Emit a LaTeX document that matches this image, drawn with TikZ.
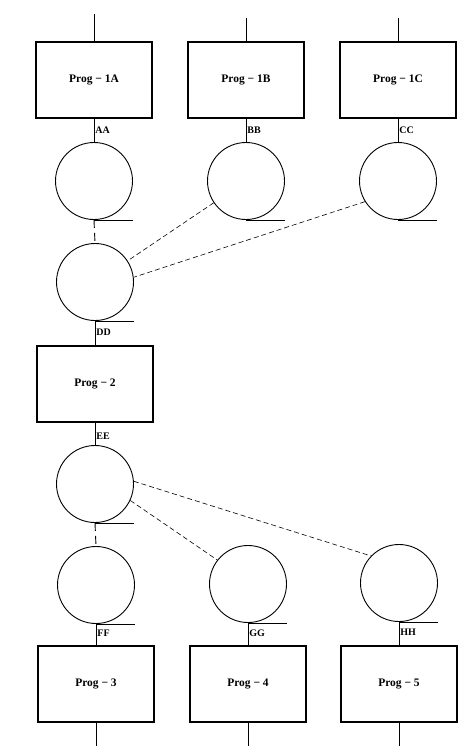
\documentclass[tikz,border=0pt]{standalone}
\usepackage{fontspec}
\setmainfont{Liberation Serif}
\begin{document}
\begin{tikzpicture}[x=1pt,y=-1pt,
  prog/.style={draw,line width=1.3pt,minimum width=116pt,minimum height=76pt,inner sep=0pt,font=\bfseries\fontsize{11.5}{13}\selectfont},
  store/.style={draw,circle,line width=0.9pt,minimum size=77pt,inner sep=0pt},
  wire/.style={line width=0.9pt},
  link/.style={line width=0.6pt,dash pattern=on 5pt off 3pt},
  vlink/.style={line width=0.9pt,dash pattern=on 8pt off 5pt},
  lab/.style={anchor=west,inner sep=1pt,font=\bfseries\fontsize{10}{11}\selectfont}]
\useasboundingbox (0,0) rectangle (466,756);
% boxes
\node[prog] (p1a) at (94,80) {Prog − 1A};
\node[prog] (p1b) at (246,80) {Prog − 1B};
\node[prog] (p1c) at (398,80) {Prog − 1C};
\node[prog] (p2) at (95,384) {Prog − 2};
\node[prog] (p3) at (96,684) {Prog − 3};
\node[prog] (p4) at (248,684) {Prog − 4};
\node[prog] (p5) at (399,684) {Prog − 5};
% stores
\node[store] (sa) at (94,181) {};
\node[store] (sb) at (246,181) {};
\node[store] (sc) at (398,181) {};
\node[store] (sd) at (95,282) {};
\node[store] (se) at (95,484) {};
\node[store] (sf) at (96,585) {};
\node[store] (sg) at (248,584) {};
\node[store] (sh) at (399,583) {};
% free ends
\coordinate (ta) at (94,14);
\coordinate (tb) at (246,18);
\coordinate (tc) at (398,18);
\coordinate (b3) at (96,746);
\coordinate (b4) at (248,746);
\coordinate (b5) at (399,746);
\draw[wire] (ta) -- (p1a.north);
\draw[wire] (tb) -- (p1b.north);
\draw[wire] (tc) -- (p1c.north);
\draw[wire] (p3.south) -- (b3);
\draw[wire] (p4.south) -- (b4);
\draw[wire] (p5.south) -- (b5);
% box to store
\draw[wire] (p1a.south) -- (sa.north) node[lab,pos=0.5] {AA};
\draw[wire] (p1b.south) -- (sb.north) node[lab,pos=0.5] {BB};
\draw[wire] (p1c.south) -- (sc.north) node[lab,pos=0.5] {CC};
\draw[wire] (sd.south) -- (p2.north) node[lab,pos=0.45] {DD};
\draw[wire] (p2.south) -- (se.north) node[lab,pos=0.6] {EE};
\draw[wire] (sf.south) -- (p3.north) node[lab,pos=0.45] {FF};
\draw[wire] (sg.south) -- (p4.north) node[lab,pos=0.45] {GG};
\draw[wire] (sh.south) -- (p5.north) node[lab,pos=0.45] {HH};
% tails
\foreach \s in {sa,sb,sc,sd,se,sf,sg,sh}
  \draw[wire] (\s.south) -- ++(39,0);
% dashed links
\draw[vlink] (sa.south) -- (sd.north);
\draw[vlink] (se.south) -- (sf.north);
\draw[link] (sb.214) -- (sd.33);
\draw[link] (sc.212) -- (sd.7);
\draw[link] (se.4) -- (sh.136);
\draw[link] (se.-25) -- (sg.142);
\end{tikzpicture}
\end{document}
